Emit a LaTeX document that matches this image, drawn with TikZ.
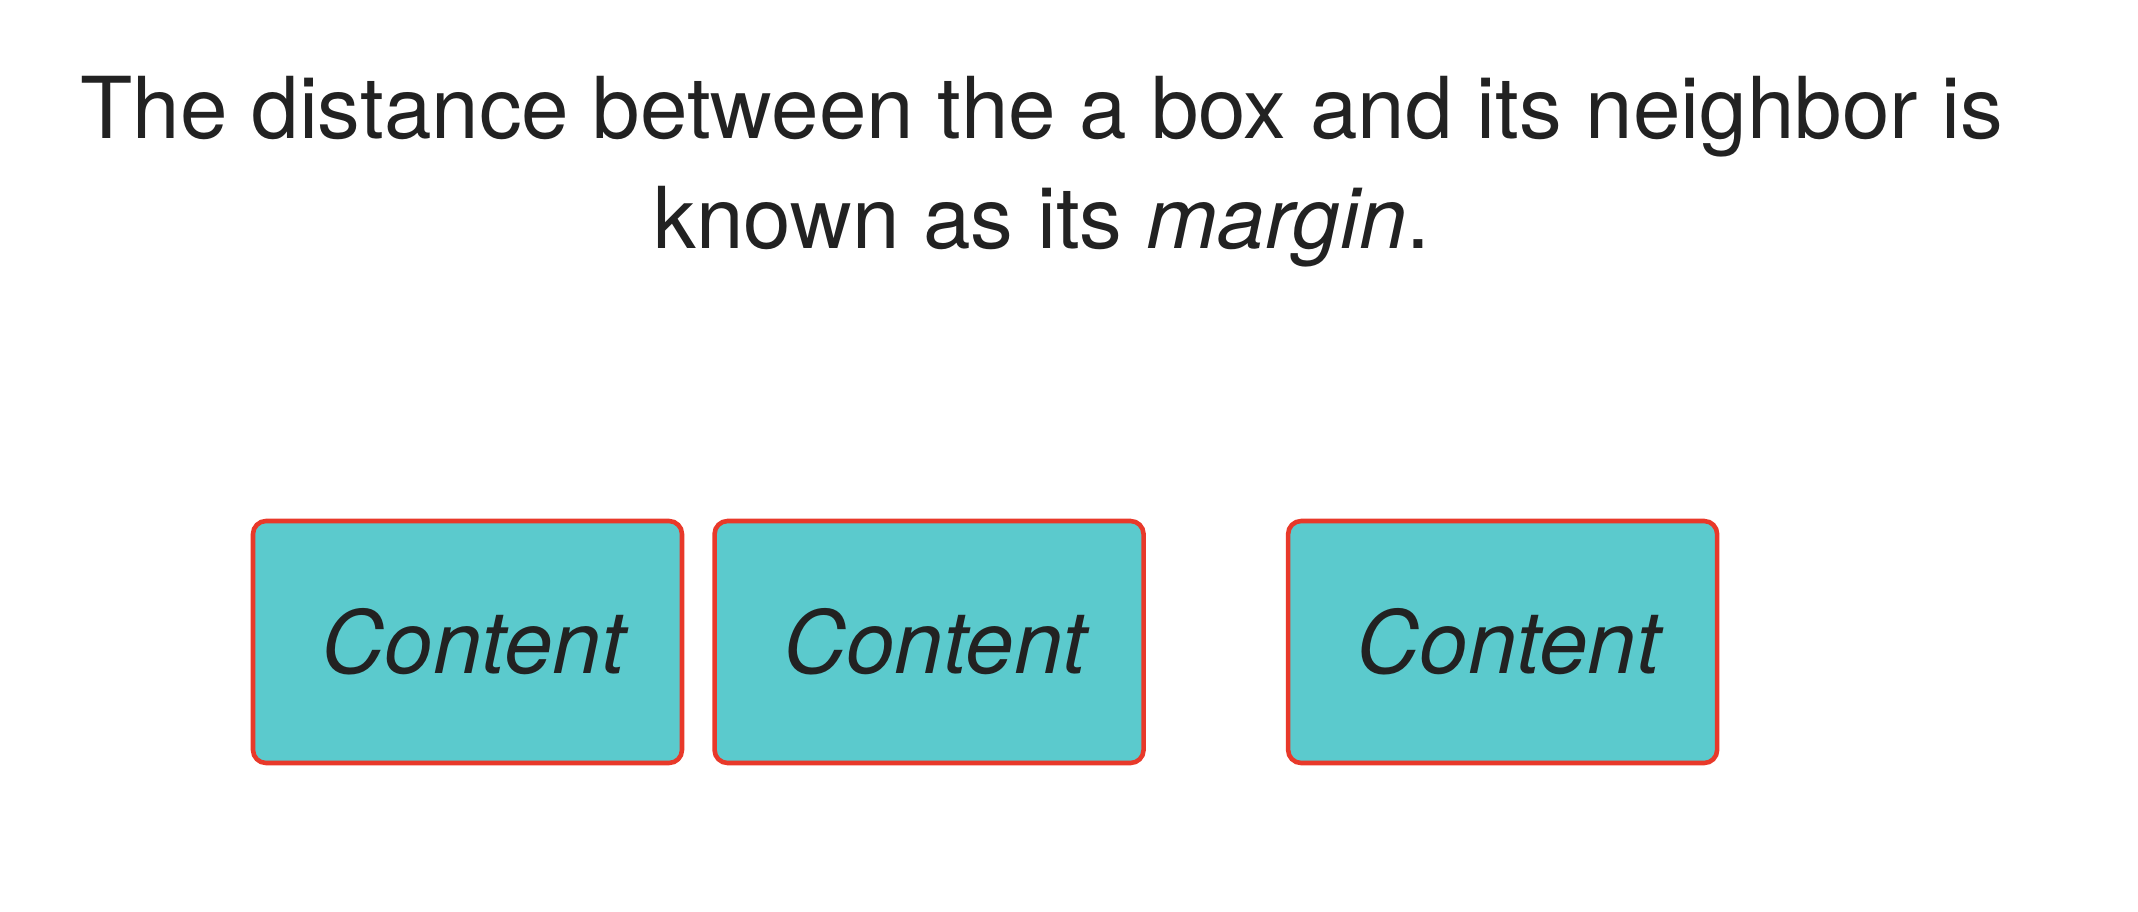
\documentclass[tikz,border=0pt]{standalone}
\usepackage{fontspec}
\setmainfont{TeX Gyre Heros}
\usetikzlibrary{positioning}
\definecolor{boxfill}{HTML}{5BCACD}
\definecolor{boxline}{HTML}{E8392A}
\definecolor{inktext}{HTML}{222222}
\tikzset{
    caption/.style = {align=center, text=inktext, inner sep=0pt, font=\fontsize{24.3}{31.3}\selectfont},
    contentbox/.style = {rectangle, draw=boxline, line width=1.3pt, fill=boxfill, rounded corners=0.13cm,
                    minimum width=4.29cm, minimum height=2.42cm, inner sep=0pt, text=inktext,
                    font=\fontsize{24.8}{30}\selectfont\itshape}
}

\begin{document}
\begin{tikzpicture}
    \useasboundingbox (0,0) rectangle (21.38,-9.12);

    % Caption
    \node[caption, anchor=north] (caption) at (10.42,-0.76)
        {The distance between the a box and its neighbor is\\known as its \textit{margin}.};

    % Boxes in a row
    \node[contentbox] (boxa) at (4.675,-6.42) {\hspace{0.12cm}Content};
    \node[contentbox, right=0.28cm of boxa] (boxb) {\hspace{0.12cm}Content};
    \node[contentbox, right=1.40cm of boxb] (boxc) {\hspace{0.12cm}Content};

\end{tikzpicture}
\end{document}
